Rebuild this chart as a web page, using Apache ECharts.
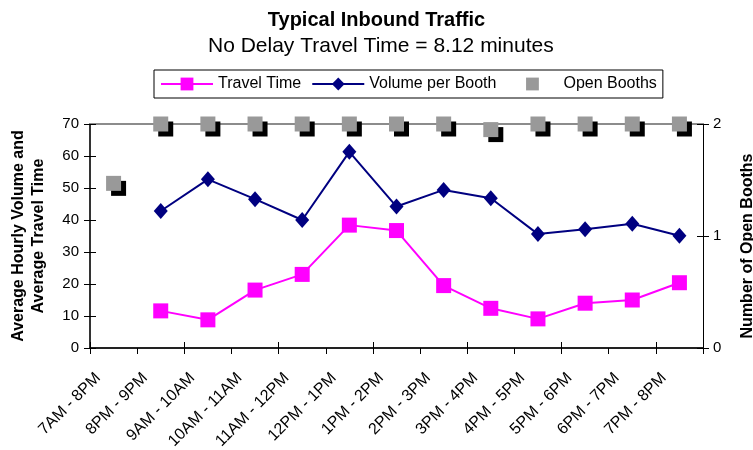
<!DOCTYPE html>
<html>
<head>
<meta charset="utf-8">
<script src="https://cdn.jsdelivr.net/npm/echarts@6/dist/echarts.min.js"></script>
<style>
  html, body { margin: 0; padding: 0; background: #ffffff; }
  #chart { width: 753px; height: 450px; }
</style>
</head>
<body>
<div id="chart"></div>
<script>
var categories = ['7AM - 8PM', '8PM - 9PM', '9AM - 10AM', '10AM - 11AM', '11AM - 12PM', '12PM - 1PM', '1PM - 2PM', '2PM - 3PM', '3PM - 4PM', '4PM - 5PM', '5PM - 6PM', '6PM - 7PM', '7PM - 8PM'];
var travelTime = [null, 11.6, 8.8, 18.1, 23.0, 38.4, 36.7, 19.5, 12.4, 9.1, 14.0, 15.0, 20.4];
var volumePerBooth = [null, 42.8, 52.7, 46.5, 40.0, 61.3, 44.2, 49.4, 46.8, 35.6, 37.1, 38.8, 35.1];
var openBooths = [1.47, 2, 2, 2, 2, 2, 2, 2, 1.95, 2, 2, 2, 2];
var leftTicks = { min: 0, max: 70, interval: 10 };
var rightTicks = { min: 0, max: 2, interval: 1 };

var FONT = 'Liberation Sans, Arial, sans-serif';
var chart = echarts.init(document.getElementById('chart'), null, { renderer: 'canvas' });

function tickOnlyY(pos, t) {
  return {
    type: 'value', position: pos, min: t.min, max: t.max, interval: t.interval,
    axisLine: { show: false, onZero: false }, axisLabel: { show: false }, splitLine: { show: false },
    axisTick: { show: true, inside: true, length: 6, lineStyle: { color: '#000', width: 1 } }
  };
}

var option = {
  animation: false,
  backgroundColor: '#ffffff',
  title: [
    {
      left: 'center', top: 5,
      text: 'Typical Inbound Traffic',
      textStyle: { fontFamily: FONT, fontSize: 20, fontWeight: 'bold', color: '#000' }
    },
    {
      left: 203, top: 31,
      text: 'No Delay Travel Time = 8.12 minutes',
      textStyle: { fontFamily: FONT, fontSize: 21, fontWeight: 'normal', color: '#000' }
    }
  ],
  legend: {
    left: 154, top: 70,
    padding: [6, 6, 6, 6],
    itemGap: 10,
    itemWidth: 52, itemHeight: 16,
    borderColor: '#000', borderWidth: 1,
    textStyle: { fontFamily: FONT, fontSize: 16, color: '#000' },
    data: [
      { name: 'Travel Time' },
      { name: 'Volume per Booth' },
      { name: 'Open Booths', itemStyle: { shadowColor: 'transparent', shadowOffsetX: 0, shadowOffsetY: 0, shadowBlur: 0 } }
    ]
  },
  grid: { left: 90, right: 50, top: 124, bottom: 102, containLabel: false, outerBoundsMode: 'none' },
  xAxis: [
    {
      type: 'category', data: categories, position: 'bottom', boundaryGap: true,
      axisLine: { show: true, onZero: false, lineStyle: { color: '#222', width: 2 } },
      axisTick: { show: true, length: 6, lineStyle: { color: '#000', width: 1 } },
      axisLabel: { rotate: 45, margin: 12, padding: [0, 22, 0, 0], fontFamily: FONT, fontSize: 16, color: '#000', interval: 0 },
      splitLine: { show: false }
    },
    {
      type: 'category', data: categories, position: 'bottom', boundaryGap: true,
      axisLine: { show: false, onZero: false },
      axisTick: { show: true, inside: true, length: 6, lineStyle: { color: '#000', width: 1 } },
      axisLabel: { show: false }, splitLine: { show: false }
    },
    {
      type: 'category', data: categories, position: 'top', boundaryGap: true,
      axisLine: { show: true, onZero: false, lineStyle: { color: '#8c8c8c', width: 2 } },
      axisTick: { show: false }, axisLabel: { show: false }, splitLine: { show: false }
    }
  ],
  yAxis: [
    {
      type: 'value', position: 'left', min: leftTicks.min, max: leftTicks.max, interval: leftTicks.interval,
      name: 'Average Hourly Volume and\nAverage Travel Time',
      nameLocation: 'middle', nameRotate: 90, nameGap: 41,
      nameTextStyle: { fontFamily: FONT, fontSize: 16, fontWeight: 'bold', color: '#000', lineHeight: 20 },
      axisLine: { show: true, onZero: false, lineStyle: { color: '#333', width: 2 } },
      axisTick: { show: true, length: 6, lineStyle: { color: '#000', width: 1 } },
      axisLabel: { margin: 11, fontFamily: FONT, fontSize: 15, color: '#000' },
      splitLine: { show: false }
    },
    {
      type: 'value', position: 'right', min: rightTicks.min, max: rightTicks.max, interval: rightTicks.interval,
      name: 'Number of Open Booths',
      nameLocation: 'middle', nameRotate: 90, nameGap: 37,
      nameTextStyle: { fontFamily: FONT, fontSize: 16, fontWeight: 'bold', color: '#000', padding: [0, 20, 0, 0] },
      axisLine: { show: true, onZero: false, lineStyle: { color: '#000', width: 1 } },
      axisTick: { show: true, length: 6, lineStyle: { color: '#000', width: 1 } },
      axisLabel: { margin: 10, fontFamily: FONT, fontSize: 15, color: '#000' },
      splitLine: { show: false }
    },
    tickOnlyY('left', leftTicks),
    tickOnlyY('right', rightTicks)
  ],
  series: [
    {
      name: 'Travel Time', type: 'line', xAxisIndex: 0, yAxisIndex: 0,
      data: travelTime,
      symbol: 'rect', symbolSize: 15,
      lineStyle: { color: '#ff00ff', width: 2 },
      itemStyle: { color: '#ff00ff' }
    },
    {
      name: 'Volume per Booth', type: 'line', xAxisIndex: 0, yAxisIndex: 0,
      data: volumePerBooth,
      symbol: 'diamond', symbolSize: [14, 16],
      lineStyle: { color: '#000080', width: 2 },
      itemStyle: { color: '#000080' }
    },
    {
      name: 'Open Booths', type: 'line', xAxisIndex: 0, yAxisIndex: 1,
      data: openBooths,
      symbol: 'rect', symbolSize: 15,
      clip: false,
      lineStyle: { width: 0, opacity: 0 },
      itemStyle: { color: '#999999', shadowColor: '#000', shadowBlur: 0, shadowOffsetX: 5, shadowOffsetY: 5 }
    }
  ]
};
chart.setOption(option);
</script>
</body>
</html>
